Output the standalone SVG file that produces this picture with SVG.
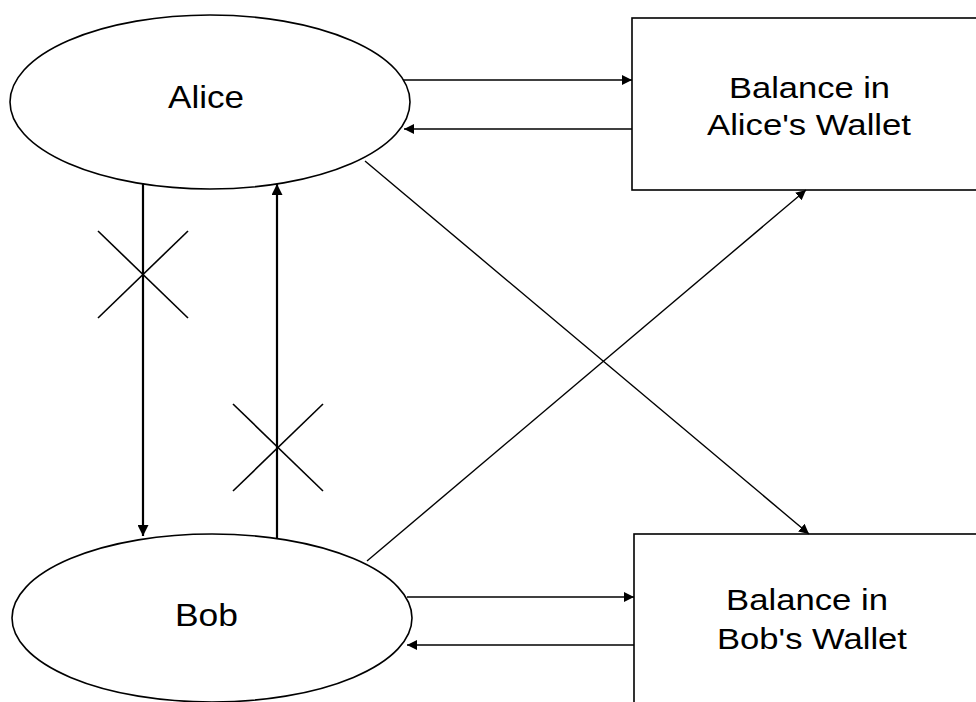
<svg xmlns="http://www.w3.org/2000/svg" width="976" height="702" viewBox="0 0 976 702">
<defs>
<style>
.shape{fill:#fff;stroke:#000;stroke-width:1.6}
.lbl{font-family:"Liberation Sans",Arial,sans-serif;fill:#000;text-anchor:start}
.big{font-size:32px}
.box{font-size:30px}
.c{stroke:#000;fill:none;stroke-width:1.4}
.v{stroke:#000;fill:none;stroke-width:2.2}
.x{stroke:#000;fill:none;stroke-width:1.6}
</style>
<marker id="ah" viewBox="0 0 10 10" refX="10" refY="5" markerWidth="10" markerHeight="10" markerUnits="userSpaceOnUse" orient="auto">
<path d="M0,0 L10,5 L0,10 z" fill="#000"/>
</marker>
<marker id="ahv" viewBox="0 0 10 10" refX="10" refY="5" markerWidth="11" markerHeight="11" markerUnits="userSpaceOnUse" orient="auto">
<path d="M0,0 L10,5 L0,10 z" fill="#000"/>
</marker>
</defs>
<rect width="976" height="702" fill="#fff"/>
<g id="alice">
<ellipse class="shape" cx="210" cy="102" rx="200" ry="87"/>
<text class="lbl big" x="168" y="108" textLength="76" lengthAdjust="spacingAndGlyphs">Alice</text>
</g>
<g id="bob">
<ellipse class="shape" cx="212" cy="618" rx="200" ry="84"/>
<text class="lbl big" x="175" y="626" textLength="63" lengthAdjust="spacingAndGlyphs">Bob</text>
</g>
<g id="alice-wallet">
<rect class="shape" x="632" y="18" width="360" height="172"/>
<text class="lbl box" x="729" y="98" textLength="161" lengthAdjust="spacingAndGlyphs">Balance in</text>
<text class="lbl box" x="707" y="135" textLength="204" lengthAdjust="spacingAndGlyphs">Alice's Wallet</text>
</g>
<g id="bob-wallet">
<rect class="shape" x="634" y="534" width="360" height="200"/>
<text class="lbl box" x="726" y="610" textLength="162" lengthAdjust="spacingAndGlyphs">Balance in</text>
<text class="lbl box" x="717" y="649" textLength="190" lengthAdjust="spacingAndGlyphs">Bob's Wallet</text>
</g>
<g id="connectors">
<line class="c" x1="403" y1="80" x2="632" y2="80" marker-end="url(#ah)"/>
<line class="c" x1="632" y1="129" x2="404" y2="129" marker-end="url(#ah)"/>
<line class="c" x1="407" y1="597" x2="634" y2="597" marker-end="url(#ah)"/>
<line class="c" x1="634" y1="645" x2="407" y2="645" marker-end="url(#ah)"/>
<line class="v" x1="143" y1="183" x2="143" y2="536" marker-end="url(#ahv)"/>
<line class="v" x1="277" y1="539" x2="277" y2="184" marker-end="url(#ahv)"/>
<line class="c" x1="365" y1="161" x2="809" y2="534" marker-end="url(#ah)"/>
<line class="c" x1="367" y1="561" x2="806" y2="190" marker-end="url(#ah)"/>
<line class="x" x1="98" y1="231" x2="188" y2="318"/>
<line class="x" x1="188" y1="231" x2="98" y2="318"/>
<line class="x" x1="233" y1="404" x2="323" y2="491"/>
<line class="x" x1="323" y1="404" x2="233" y2="491"/>
</g>
</svg>
